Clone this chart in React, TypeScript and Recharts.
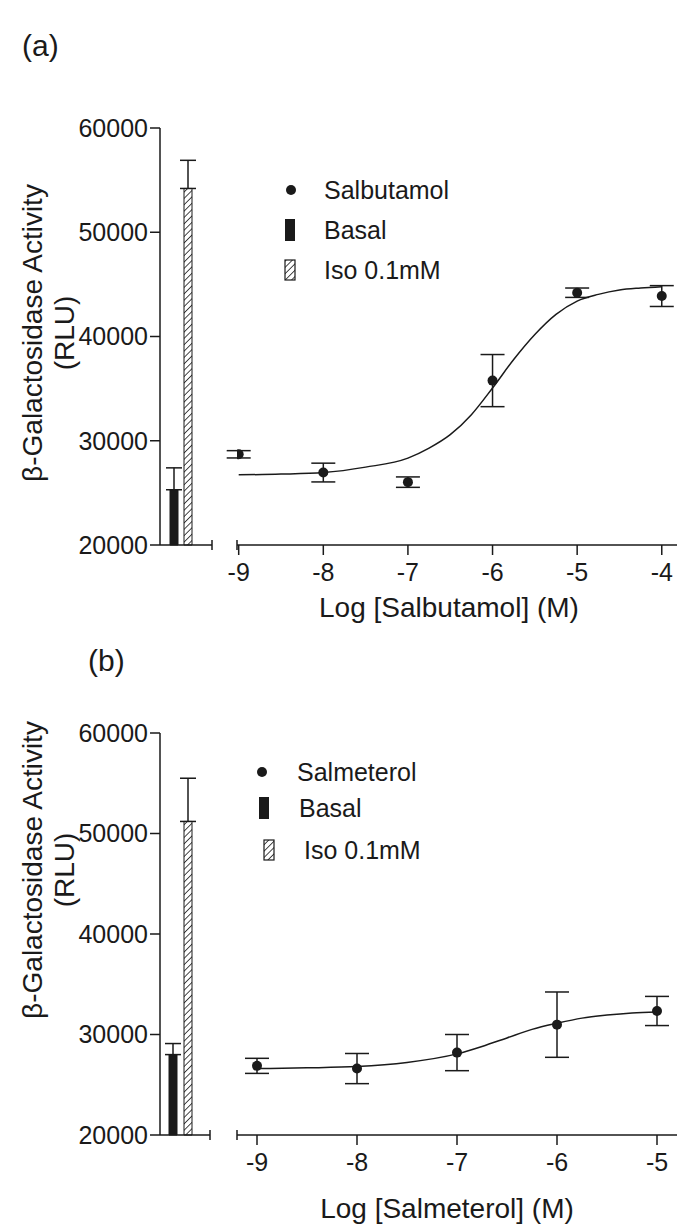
import React from 'react';
import { ComposedChart, Bar, Cell, ErrorBar, Scatter, Line, XAxis, YAxis, Legend } from 'recharts';

// ---------- data ----------
const yTicks = [20000, 30000, 40000, 50000, 60000];
const barNames = ['Basal', 'Iso 0.1mM'];

// Panel (a) – Salbutamol
const aBarMean = [25300, 54200];
const aBarErr = [2100, 2700];
const aLogConc = [-9, -8, -7, -6, -5, -4];
const aMean = [28700, 26950, 26030, 35770, 44200, 43880];
const aSem = [350, 900, 500, 2500, 450, 1000];
const aCurveX = [-9, -8.5, -8, -7.5, -7, -6.75, -6.5, -6.25, -6, -5.75, -5.5, -5.25, -5, -4.75, -4.5, -4.25, -4];
const aCurveY = [26730, 26800, 26950, 27470, 28330, 29290, 30580, 32500, 35060, 37790, 40190, 42120, 43400, 44040, 44460, 44650, 44780];
const aXTicks = [-9, -8, -7, -6, -5, -4];

// Panel (b) – Salmeterol
const bBarMean = [28000, 51200];
const bBarErr = [1100, 4300];
const bLogConc = [-9, -8, -7, -6, -5];
const bMean = [26880, 26610, 28200, 30980, 32340];
const bSem = [750, 1500, 1800, 3250, 1450];
const bCurveX = [-9, -8.5, -8, -7.5, -7, -6.75, -6.5, -6.25, -6, -5.75, -5.5, -5.25, -5];
const bCurveY = [26610, 26680, 26810, 27220, 28070, 28810, 29660, 30510, 31120, 31630, 31930, 32140, 32240];
const bXTicks = [-9, -8, -7, -6, -5];

// ---------- helpers ----------
const INK = '#1a1a1a';
const FONT = '"Liberation Sans", Arial, Helvetica, sans-serif';

const barRows = (means: number[], errs: number[]) =>
  barNames.map((n, i) => ({ name: n, v: means[i], err: [0, errs[i]] }));
const pointRows = (xs: number[], ys: number[], es: number[]) =>
  xs.map((x, i) => ({ x, y: ys[i], sem: es[i] }));
const curveRows = (xs: number[], ys: number[]) => xs.map((x, i) => ({ x, y: ys[i] }));

const dotShape = (p: any) => <circle cx={p.cx} cy={p.cy} r={5} fill={INK} />;

const makeLegend = (drug: string, rows: number[], dotX: number, textX: number[], iconX: number[]) => () => (
  <svg width={260} height={130} style={{ overflow: 'visible' }}>
    <circle cx={dotX} cy={rows[0]} r={5} fill={INK} />
    <text x={textX[0]} y={rows[0]} dominantBaseline="central" fontSize={25} fill={INK} fontFamily={FONT}>{drug}</text>
    <rect x={iconX[0] - 5} y={rows[1] - 11} width={10} height={22} fill={INK} />
    <text x={textX[1]} y={rows[1]} dominantBaseline="central" fontSize={25} fill={INK} fontFamily={FONT}>Basal</text>
    <rect x={iconX[1] - 5} y={rows[2] - 10} width={10} height={20} fill="url(#hatch)" stroke={INK} strokeWidth={1.2} />
    <text x={textX[2]} y={rows[2]} dominantBaseline="central" fontSize={25} fill={INK} fontFamily={FONT}>Iso 0.1mM</text>
  </svg>
);

const yTitle = (letter: string, letterX: number, letterY: number, cy: number) => () => (
  <g fontFamily={FONT} fill={INK}>
    <text x={letterX} y={letterY} dominantBaseline="central" fontSize={30} fill={INK}>{letter}</text>
    <text x={32} y={cy} transform={`rotate(-90 32 ${cy})`} textAnchor="middle" dominantBaseline="central" fontSize={28} fill={INK}>
      β-Galactosidase Activity
    </text>
    <text x={64} y={cy} transform={`rotate(-90 64 ${cy})`} textAnchor="middle" dominantBaseline="central" fontSize={28} fill={INK}>
      (RLU)
    </text>
  </g>
);

// end cap at the right end of the bar axis
const barAxisCap = (props: any) => {
  const vb = props.viewBox || {};
  const x = (vb.x || 0) + (vb.width || 0);
  const y = vb.y || 0;
  return <line x1={x} x2={x} y1={y - 5} y2={y + 5} stroke={INK} strokeWidth={1.5} />;
};

// x title + cap at the left end of the scatter axis
const xTitle = (text: string, cx: number, cy: number) => (props: any) => {
  const vb = props.viewBox || {};
  const x = vb.x || 0;
  const y = vb.y || 0;
  return (
    <g>
      <line x1={x} x2={x} y1={y - 5} y2={y + 5} stroke={INK} strokeWidth={1.5} />
      <text x={cx} y={cy} textAnchor="middle" dominantBaseline="central" fontSize={28} fill={INK} fontFamily={FONT}>{text}</text>
    </g>
  );
};

type PanelProps = {
  top: number;
  height: number;
  plotTop: number;
  plotBottom: number;
  barRight: number;
  barPad: { left: number; right: number };
  bars: any[];
  points: any[];
  curve: any[];
  xDomain: [number, number];
  xTicks: number[];
  xLabel: string;
  xLabelX: number;
  xLabelY: number;
  letter: string;
  letterX: number;
  letterY: number;
  yTitleY: number;
  legend: () => React.ReactElement;
  legendPos: { left: number; top: number };
};

const Panel = (p: PanelProps) => {
  const mb = p.height - p.plotBottom - 30;
  const axisStyle = { stroke: INK, strokeWidth: 1.5 };
  return (
    <>
      <div style={{ position: 'absolute', left: 0, top: p.top }}>
        <ComposedChart
          width={p.barRight + 5}
          height={p.height}
          data={p.bars}
          margin={{ top: p.plotTop, bottom: mb, left: 10, right: 5 }}
          barCategoryGap={0}
          style={{ fontFamily: FONT, overflow: 'visible' }}
        >
          <XAxis
            dataKey="name"
            type="category"
            height={30}
            tick={false}
            tickLine={false}
            axisLine={axisStyle}
            padding={p.barPad}
            label={{ content: barAxisCap }}
          />
          <YAxis
            type="number"
            domain={[20000, 60000]}
            ticks={yTicks}
            interval={0}
            width={150}
            tickSize={10}
            tickMargin={2}
            axisLine={axisStyle}
            tickLine={axisStyle}
            tick={{ fontSize: 25, fill: INK }}
            label={{ content: yTitle(p.letter, p.letterX, p.letterY, p.yTitleY) }}
          />
          <Bar dataKey="v" barSize={8} stroke={INK} strokeWidth={1} isAnimationActive={false}>
            {p.bars.map((_, i) => (
              <Cell key={i} fill={i === 0 ? INK : 'url(#hatch)'} />
            ))}
            <ErrorBar dataKey="err" width={8} stroke={INK} strokeWidth={1.5} direction="y" />
          </Bar>
        </ComposedChart>
      </div>
      <div style={{ position: 'absolute', left: 0, top: p.top }}>
        <ComposedChart
          width={677}
          height={p.height}
          margin={{ top: p.plotTop, bottom: mb, left: 237, right: 0 }}
          style={{ fontFamily: FONT, overflow: 'visible' }}
        >
          <XAxis
            dataKey="x"
            type="number"
            domain={p.xDomain}
            ticks={p.xTicks}
            interval={0}
            allowDataOverflow
            height={30}
            tickSize={10}
            tickMargin={8}
            axisLine={axisStyle}
            tickLine={axisStyle}
            tick={{ fontSize: 25, fill: INK }}
            label={{ content: xTitle(p.xLabel, p.xLabelX, p.xLabelY) }}
          />
          <YAxis hide type="number" dataKey="y" domain={[20000, 60000]} allowDataOverflow />
          <Line data={p.curve} dataKey="y" type="monotone" dot={false} stroke={INK} strokeWidth={1.5} isAnimationActive={false} />
          <Scatter data={p.points} dataKey="y" shape={dotShape} isAnimationActive={false}>
            <ErrorBar dataKey="sem" width={12} stroke={INK} strokeWidth={1.5} direction="y" />
          </Scatter>
          <Legend
            layout="horizontal"
            verticalAlign="middle"
            align="center"
            content={p.legend}
            wrapperStyle={{ left: p.legendPos.left, top: p.legendPos.top, width: 260, height: 130 }}
          />
        </ComposedChart>
      </div>
    </>
  );
};

export default function App() {
  return (
    <div style={{ position: 'absolute', left: 0, top: 0, width: 677, height: 1227, background: '#fff', fontFamily: FONT }}>
      <svg width={0} height={0} style={{ position: 'absolute' }}>
        <defs>
          <pattern id="hatch" patternUnits="userSpaceOnUse" width={4.5} height={4.5} patternTransform="rotate(45)">
            <rect width={4.5} height={4.5} fill="#fff" />
            <line x1={0} y1={0} x2={0} y2={4.5} stroke={INK} strokeWidth={1.6} />
          </pattern>
        </defs>
      </svg>
      <Panel
        top={0}
        height={640}
        plotTop={128}
        plotBottom={545}
        barRight={212}
        barPad={{ left: 7, right: 17 }}
        bars={barRows(aBarMean, aBarErr)}
        points={pointRows(aLogConc, aMean, aSem)}
        curve={curveRows(aCurveX, aCurveY)}
        xDomain={[-9.02, -3.82]}
        xTicks={aXTicks}
        xLabel="Log [Salbutamol] (M)"
        xLabelX={449}
        xLabelY={607}
        letter="(a)"
        letterX={22}
        letterY={45}
        yTitleY={333}
        legend={makeLegend('Salbutamol', [20, 60, 100], 11, [44, 44, 44], [10, 10])}
        legendPos={{ left: 280, top: 170 }}
      />
      <Panel
        top={620}
        height={607}
        plotTop={113}
        plotBottom={515}
        barRight={210}
        barPad={{ left: 5, right: 15 }}
        bars={barRows(bBarMean, bBarErr)}
        points={pointRows(bLogConc, bMean, bSem)}
        curve={curveRows(bCurveX, bCurveY)}
        xDomain={[-9.2, -4.8]}
        xTicks={bXTicks}
        xLabel="Log [Salmeterol] (M)"
        xLabelX={447}
        xLabelY={588}
        letter="(b)"
        letterX={88}
        letterY={40}
        yTitleY={250}
        legend={makeLegend('Salmeterol', [22, 58, 100], 12, [47, 49, 54], [14, 19])}
        legendPos={{ left: 250, top: 130 }}
      />
    </div>
  );
}
